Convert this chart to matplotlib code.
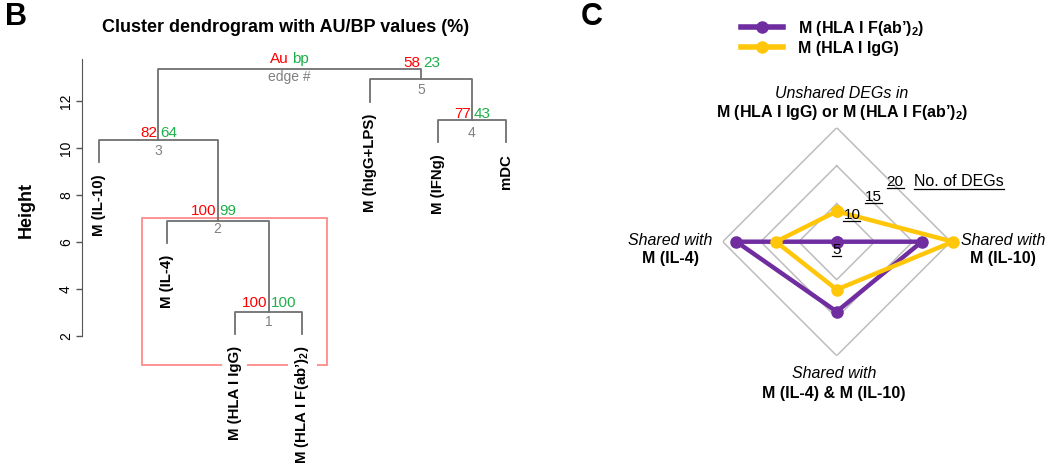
import numpy as np
import matplotlib
matplotlib.use('Agg')
import matplotlib.pyplot as plt
from matplotlib.lines import Line2D
from matplotlib.patches import Rectangle

plt.rcParams['font.family'] = ['Liberation Sans', 'DejaVu Sans']
plt.rcParams['mathtext.fontset'] = 'custom'
plt.rcParams['mathtext.rm'] = 'Liberation Sans'
plt.rcParams['mathtext.bf'] = 'Liberation Sans:bold'
plt.rcParams['mathtext.it'] = 'Liberation Sans:italic'

W, H = 1050, 465

# dendrogram (hclust style merge matrix: negative = leaf, positive = earlier merge)
leaf_labels = ['M (IL-10)', 'M (IL-4)', 'M (HLA I IgG)', r'M (HLA I F(ab’)$_\mathbf{2}$)',
               'M (hIgG+LPS)', 'M (IFNg)', 'mDC']
merge = [(-3, -4), (-2, 1), (-1, 2), (-6, -7), (-5, 4), (3, 5)]
heights = [3.03, 6.89, 10.35, 11.19, 12.92, 13.36]
au = ['100', '100', '82', '77', '58', 'Au']
bp = ['100', '99', '64', '43', '23', 'bp']
edge = ['1', '2', '3', '4', '5', 'edge #']
hang = 0.95

# label gaps (px) above / below each merge line
gap_up = [5, 6.5, 3, 2.5, 12, 6]
gap_dn = [6, 3.5, 7, 8, 6, 3]

# radar
categories = ['Unshared', 'Shared IL-10', 'Shared both', 'Shared IL-4']
fab_vals = [5, 16.2, 14.2, 18.2]
igg_vals = [9, 20.3, 11.3, 13.0]
rings = [10, 15, 20]

purple = '#6F2DA0'
yellow = '#FFC60A'


def fx(px):
    return px / W


def fy(py):
    return 1 - py / H


fig = plt.figure(figsize=(W / 100, H / 100), dpi=100)

# ---- panel B ----
ax = fig.add_axes([fx(82), fy(440), (530 - 82) / W, (440 - 58) / H])
ax.set_xlim(0.749, 7.357)
ax.set_ylim(-2.43, 13.83)

node_x = {}
for i, (a, b) in enumerate(merge, start=1):
    h = heights[i - 1]
    xs, ys = [], []
    for c in (a, b):
        if c < 0:
            xs.append(-c)
            ys.append(h - hang)
            ax.annotate(leaf_labels[-c - 1], (-c, h - hang), xytext=(0, -8.5),
                        textcoords='offset points', rotation=90, ha='center',
                        va='top', fontsize=10.8, fontweight='bold', zorder=4,
                        bbox=dict(fc='white', ec='none', boxstyle='square,pad=0.35'))
        else:
            xs.append(node_x[c])
            ys.append(heights[c - 1])
    ax.plot([xs[0], xs[0], xs[1], xs[1]], [ys[0], h, h, ys[1]],
            color='#707070', lw=1.3, zorder=5)
    node_x[i] = (xs[0] + xs[1]) / 2
    x = node_x[i]
    up = gap_up[i - 1] * 0.72
    dn = (gap_dn[i - 1] - 2.5) * 0.72
    ax.annotate(au[i - 1], (x, h), xytext=(-0.8, up), textcoords='offset points',
                ha='right', va='baseline', color='#FF0000', fontsize=11)
    ax.annotate(bp[i - 1], (x, h), xytext=(1.5, up), textcoords='offset points',
                ha='left', va='baseline', color='#1DB04A', fontsize=11)
    ax.annotate(edge[i - 1], (x, h), xytext=(0, -dn), textcoords='offset points',
                ha='center', va='top', color='#808080', fontsize=10)

# rectangle around cluster 2 (leaves 2..4)
ax.add_patch(Rectangle((2 - 0.36, 0.77), (4 + 0.36) - (2 - 0.36), heights[1] + 0.13 - 0.77,
                       fill=False, ec='#FF8A8A', lw=1.3, zorder=1))

for s in ['top', 'right', 'bottom']:
    ax.spines[s].set_visible(False)
ax.spines['left'].set_bounds(2, 13.8)
ax.spines['left'].set_color('#555555')
ax.set_xticks([])
ax.set_yticks([2, 4, 6, 8, 10, 12])
ax.tick_params(axis='y', length=4.5, width=1, color='#555555', labelsize=10, pad=2)
plt.setp(ax.get_yticklabels(), rotation=90, va='center')
ax.set_ylabel('Height', fontweight='bold', fontsize=13)
ax.yaxis.set_label_coords(-0.105, 0.602)

fig.text(fx(286), fy(28), 'Cluster dendrogram with AU/BP values (%)', ha='center',
         va='center', fontweight='bold', fontsize=13)
fig.text(fx(5), fy(17), 'B', fontsize=22, fontweight='bold', va='center')
fig.text(fx(581), fy(17), 'C', fontsize=22, fontweight='bold', va='center')

# ---- panel C ----
R = 114
rax = fig.add_axes([fx(836.7 - R), fy(241.7 + R), 2 * R / W, 2 * R / H], projection='polar')
rax.set_theta_offset(np.pi / 2)
rax.set_theta_direction(-1)
rax.set_ylim(5, 20)
rax.axis('off')

theta = np.arange(len(categories)) * 2 * np.pi / len(categories)
tc = np.append(theta, theta[0])
for r in rings:
    rax.plot(tc, [r] * len(tc), color='#BDBDBD', lw=1.1, zorder=1)

rax.plot(tc, fab_vals + fab_vals[:1], color=purple, lw=3.2, marker='o', ms=8,
         clip_on=False, zorder=3)
rax.plot(tc, igg_vals + igg_vals[:1], color=yellow, lw=3.2, marker='o', ms=8,
         clip_on=False, zorder=4)

under = []
for txt, ang, r in [('5', 180, 6.1), ('10', 30, 9.0), ('15', 39, 12.6), ('20', 44.3, 16.0)]:
    under.append(rax.text(np.deg2rad(ang), r, txt, ha='center', va='center', fontsize=11,
                          zorder=5))
under.append(fig.text(fx(914), fy(182), 'No. of DEGs', ha='left', va='center', fontsize=11.5))

lab = dict(ha='center', va='center', fontsize=11.5)
fig.text(fx(842), fy(93), 'Unshared DEGs in', style='italic', **lab)
fig.text(fx(842), fy(112), r'M (HLA I IgG) or M (HLA I F(ab’)$_\mathbf{2}$)',
         fontweight='bold', **lab)
fig.text(fx(670), fy(240), 'Shared with', style='italic', **lab)
fig.text(fx(670), fy(259), 'M (IL-4)', fontweight='bold', **lab)
fig.text(fx(1003), fy(240), 'Shared with', style='italic', **lab)
fig.text(fx(1003), fy(259), 'M (IL-10)', fontweight='bold', **lab)
fig.text(fx(834), fy(373), 'Shared with', style='italic', **lab)
fig.text(fx(834), fy(393), 'M (IL-4) & M (IL-10)', fontweight='bold', **lab)

handles = [Line2D([], [], color=purple, lw=4, marker='o', ms=8),
           Line2D([], [], color=yellow, lw=4, marker='o', ms=8)]
fig.legend(handles, [r'M (HLA I F(ab’)$_\mathbf{2}$)', 'M (HLA I IgG)'], loc='upper left',
           bbox_to_anchor=(fx(741), fy(18.5)), frameon=False, handlelength=2.6,
           handletextpad=0.95, labelspacing=0.2, borderpad=0, borderaxespad=0,
           prop=dict(weight='bold', size=11.5))

# underline the scale labels
fig.canvas.draw()
inv = fig.transFigure.inverted()
for t in under:
    bb = t.get_window_extent()
    (x0, y0), (x1, _) = inv.transform([[bb.x0, bb.y0 + 1], [bb.x1, bb.y0]])
    fig.add_artist(Line2D([x0, x1], [y0, y0], color='black', lw=0.9))

fig.savefig('out.png', dpi=100)
